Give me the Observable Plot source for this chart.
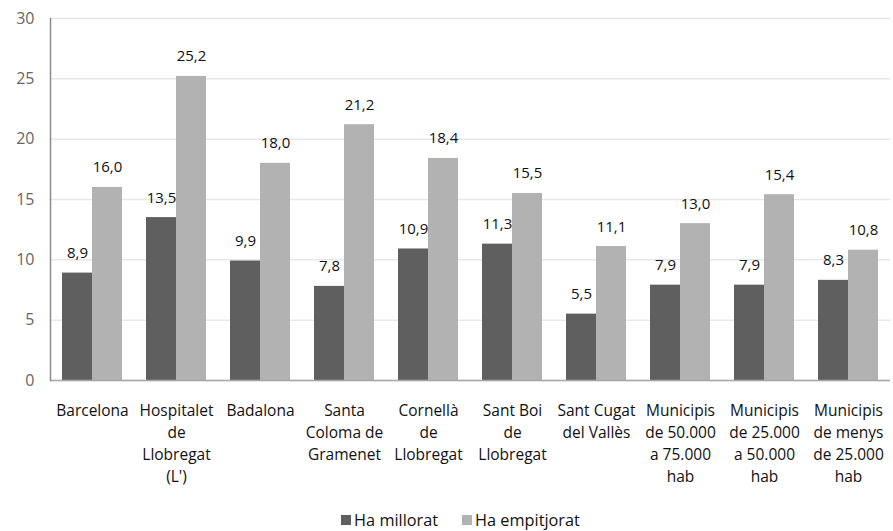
<!DOCTYPE html>
<html>
<head>
<meta charset="utf-8">
<script src="https://cdn.jsdelivr.net/npm/d3@7"></script>
<script src="https://cdn.jsdelivr.net/npm/@observablehq/plot@0.6"></script>
<style>
  body { margin: 0; background: #fff; font-family: "Open Sans", Lato, sans-serif; }
  #chart { width: 893px; }
  .legend { display: flex; justify-content: center; align-items: center; height: 26px; font-size: 16.3px; color: #111; gap: 24px; padding-left: 28px; }
  .legend span.sw { display: inline-block; width: 10px; height: 10px; margin-right: 3px; }
  .legend .item { display: flex; align-items: center; }
</style>
</head>
<body>
<div id="chart"></div>
<script>
const categories = [
  "Barcelona",
  "Hospitalet\nde\nLlobregat\n(L')",
  "Badalona",
  "Santa\nColoma de\nGramenet",
  "Cornellà\nde\nLlobregat",
  "Sant Boi\nde\nLlobregat",
  "Sant Cugat\ndel Vallès",
  "Municipis\nde 50.000\na 75.000\nhab",
  "Municipis\nde 25.000\na 50.000\nhab",
  "Municipis\nde menys\nde 25.000\nhab"
];
const series = ["Ha millorat", "Ha empitjorat"];
const millorat = [8.9, 13.5, 9.9, 7.8, 10.9, 11.3, 5.5, 7.9, 7.9, 8.3];
const empitjorat = [16.0, 25.2, 18.0, 21.2, 18.4, 15.5, 11.1, 13.0, 15.4, 10.8];
const yTicks = [0, 5, 10, 15, 20, 25, 30];
const colors = ["#5f5f5f", "#b2b2b2"];

const data = [];
categories.forEach((c, i) => {
  data.push({category: c, series: series[0], value: millorat[i]});
  data.push({category: c, series: series[1], value: empitjorat[i]});
});
const fmt = v => v.toFixed(1).replace(".", ",");

const chart = Plot.plot({
  width: 893,
  height: 507,
  marginLeft: 47,
  marginRight: 0,
  marginTop: 18,
  marginBottom: 127,
  style: {fontFamily: "'Open Sans', Lato, sans-serif", fontSize: "15px", background: "#fff"},
  fx: {domain: categories, paddingInner: 0, paddingOuter: 0, label: null},
  x: {domain: series, paddingInner: 0, paddingOuter: 0.365, axis: null},
  y: {domain: [0, 30], label: null},
  color: {domain: series, range: colors},
  marks: [
    Plot.gridY(yTicks, {stroke: "#e8e8e8", strokeOpacity: 1, strokeWidth: 1.5}),
    Plot.barY(data, {fx: "category", x: "series", y: "value", fill: "series"}),
    Plot.text(data, {fx: "category", x: "series", y: "value", text: d => fmt(d.value), lineAnchor: "bottom", dy: -15, fill: "#111", fontSize: 15}),
    Plot.ruleY([0], {stroke: "#a6a6a6", strokeWidth: 1.5}),
    Plot.frame({anchor: "left", stroke: "#8c8c8c", strokeWidth: 1.5, fx: categories[0]}),
    Plot.axisY(yTicks, {tickSize: 0, tickPadding: 16, fill: "#666", fontSize: 16, label: null}),
    Plot.axisFx({anchor: "bottom", tickSize: 0, tickPadding: 20, lineHeight: 1.42, fontSize: 15.5, fill: "#111", label: null})
  ]
});
document.getElementById("chart").appendChild(chart);

const legend = document.createElement("div");
legend.className = "legend";
series.forEach((s, i) => {
  const item = document.createElement("div");
  item.className = "item";
  const sw = document.createElement("span");
  sw.className = "sw";
  sw.style.background = colors[i];
  item.appendChild(sw);
  item.appendChild(document.createTextNode(s));
  legend.appendChild(item);
});
document.getElementById("chart").appendChild(legend);
</script>
</body>
</html>
